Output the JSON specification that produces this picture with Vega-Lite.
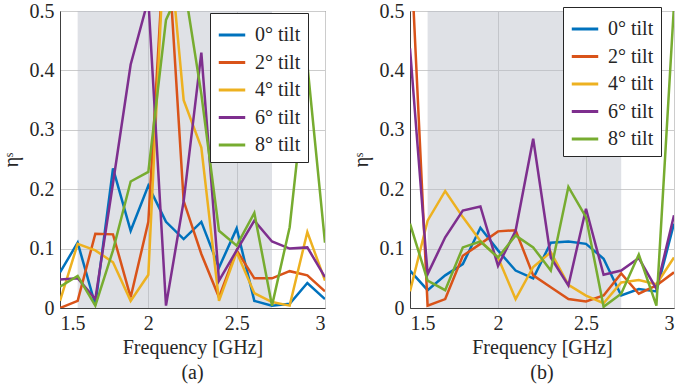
{
  "$schema": "https://vega.github.io/schema/vega-lite/v6.json",
  "padding": {"left": 0, "top": 0, "right": 5, "bottom": 0},
  "spacing": 24,
  "datasets": {
    "a": [
      {"t": "0° tilt", "f": 1.5, "v": 0.06}, {"t": "0° tilt", "f": 1.6, "v": 0.11}, {"t": "0° tilt", "f": 1.7, "v": 0.005}, {"t": "0° tilt", "f": 1.8, "v": 0.235}, {"t": "0° tilt", "f": 1.9, "v": 0.13}, {"t": "0° tilt", "f": 2.0, "v": 0.206}, {"t": "0° tilt", "f": 2.1, "v": 0.145}, {"t": "0° tilt", "f": 2.2, "v": 0.116}, {"t": "0° tilt", "f": 2.3, "v": 0.145}, {"t": "0° tilt", "f": 2.4, "v": 0.068}, {"t": "0° tilt", "f": 2.5, "v": 0.134}, {"t": "0° tilt", "f": 2.6, "v": 0.012}, {"t": "0° tilt", "f": 2.7, "v": 0.004}, {"t": "0° tilt", "f": 2.8, "v": 0.007}, {"t": "0° tilt", "f": 2.9, "v": 0.042}, {"t": "0° tilt", "f": 3.0, "v": 0.015},
      {"t": "2° tilt", "f": 1.5, "v": 0.0}, {"t": "2° tilt", "f": 1.6, "v": 0.012}, {"t": "2° tilt", "f": 1.7, "v": 0.125}, {"t": "2° tilt", "f": 1.8, "v": 0.124}, {"t": "2° tilt", "f": 1.9, "v": 0.018}, {"t": "2° tilt", "f": 2.0, "v": 0.145}, {"t": "2° tilt", "f": 2.1, "v": 0.66}, {"t": "2° tilt", "f": 2.2, "v": 0.18}, {"t": "2° tilt", "f": 2.3, "v": 0.091}, {"t": "2° tilt", "f": 2.4, "v": 0.018}, {"t": "2° tilt", "f": 2.5, "v": 0.097}, {"t": "2° tilt", "f": 2.6, "v": 0.05}, {"t": "2° tilt", "f": 2.7, "v": 0.05}, {"t": "2° tilt", "f": 2.8, "v": 0.062}, {"t": "2° tilt", "f": 2.9, "v": 0.055}, {"t": "2° tilt", "f": 3.0, "v": 0.028},
      {"t": "4° tilt", "f": 1.5, "v": 0.012}, {"t": "4° tilt", "f": 1.6, "v": 0.108}, {"t": "4° tilt", "f": 1.7, "v": 0.097}, {"t": "4° tilt", "f": 1.8, "v": 0.077}, {"t": "4° tilt", "f": 1.9, "v": 0.012}, {"t": "4° tilt", "f": 2.0, "v": 0.056}, {"t": "4° tilt", "f": 2.1, "v": 0.67}, {"t": "4° tilt", "f": 2.2, "v": 0.35}, {"t": "4° tilt", "f": 2.3, "v": 0.27}, {"t": "4° tilt", "f": 2.4, "v": 0.012}, {"t": "4° tilt", "f": 2.5, "v": 0.094}, {"t": "4° tilt", "f": 2.6, "v": 0.025}, {"t": "4° tilt", "f": 2.7, "v": 0.01}, {"t": "4° tilt", "f": 2.8, "v": 0.004}, {"t": "4° tilt", "f": 2.9, "v": 0.128}, {"t": "4° tilt", "f": 3.0, "v": 0.046},
      {"t": "6° tilt", "f": 1.5, "v": 0.048}, {"t": "6° tilt", "f": 1.6, "v": 0.05}, {"t": "6° tilt", "f": 1.7, "v": 0.015}, {"t": "6° tilt", "f": 1.8, "v": 0.21}, {"t": "6° tilt", "f": 1.9, "v": 0.41}, {"t": "6° tilt", "f": 2.0, "v": 0.52}, {"t": "6° tilt", "f": 2.1, "v": 0.004}, {"t": "6° tilt", "f": 2.2, "v": 0.18}, {"t": "6° tilt", "f": 2.3, "v": 0.43}, {"t": "6° tilt", "f": 2.4, "v": 0.046}, {"t": "6° tilt", "f": 2.5, "v": 0.097}, {"t": "6° tilt", "f": 2.6, "v": 0.147}, {"t": "6° tilt", "f": 2.7, "v": 0.112}, {"t": "6° tilt", "f": 2.8, "v": 0.1}, {"t": "6° tilt", "f": 2.9, "v": 0.102}, {"t": "6° tilt", "f": 3.0, "v": 0.052},
      {"t": "8° tilt", "f": 1.5, "v": 0.036}, {"t": "8° tilt", "f": 1.6, "v": 0.054}, {"t": "8° tilt", "f": 1.7, "v": 0.004}, {"t": "8° tilt", "f": 1.8, "v": 0.097}, {"t": "8° tilt", "f": 1.9, "v": 0.213}, {"t": "8° tilt", "f": 2.0, "v": 0.229}, {"t": "8° tilt", "f": 2.1, "v": 0.485}, {"t": "8° tilt", "f": 2.2, "v": 0.55}, {"t": "8° tilt", "f": 2.3, "v": 0.36}, {"t": "8° tilt", "f": 2.4, "v": 0.13}, {"t": "8° tilt", "f": 2.5, "v": 0.105}, {"t": "8° tilt", "f": 2.6, "v": 0.16}, {"t": "8° tilt", "f": 2.7, "v": 0.004}, {"t": "8° tilt", "f": 2.8, "v": 0.136}, {"t": "8° tilt", "f": 2.9, "v": 0.41}, {"t": "8° tilt", "f": 3.0, "v": 0.11}
    ],
    "b": [
      {"t": "0° tilt", "f": 1.5, "v": 0.063}, {"t": "0° tilt", "f": 1.6, "v": 0.03}, {"t": "0° tilt", "f": 1.7, "v": 0.055}, {"t": "0° tilt", "f": 1.8, "v": 0.074}, {"t": "0° tilt", "f": 1.9, "v": 0.135}, {"t": "0° tilt", "f": 2.0, "v": 0.097}, {"t": "0° tilt", "f": 2.1, "v": 0.063}, {"t": "0° tilt", "f": 2.2, "v": 0.05}, {"t": "0° tilt", "f": 2.3, "v": 0.11}, {"t": "0° tilt", "f": 2.4, "v": 0.112}, {"t": "0° tilt", "f": 2.5, "v": 0.108}, {"t": "0° tilt", "f": 2.6, "v": 0.083}, {"t": "0° tilt", "f": 2.7, "v": 0.021}, {"t": "0° tilt", "f": 2.8, "v": 0.032}, {"t": "0° tilt", "f": 2.9, "v": 0.028}, {"t": "0° tilt", "f": 3.0, "v": 0.142},
      {"t": "2° tilt", "f": 1.5, "v": 0.63}, {"t": "2° tilt", "f": 1.6, "v": 0.004}, {"t": "2° tilt", "f": 1.7, "v": 0.015}, {"t": "2° tilt", "f": 1.8, "v": 0.088}, {"t": "2° tilt", "f": 1.9, "v": 0.108}, {"t": "2° tilt", "f": 2.0, "v": 0.129}, {"t": "2° tilt", "f": 2.1, "v": 0.131}, {"t": "2° tilt", "f": 2.2, "v": 0.055}, {"t": "2° tilt", "f": 2.3, "v": 0.035}, {"t": "2° tilt", "f": 2.4, "v": 0.015}, {"t": "2° tilt", "f": 2.5, "v": 0.011}, {"t": "2° tilt", "f": 2.6, "v": 0.021}, {"t": "2° tilt", "f": 2.7, "v": 0.058}, {"t": "2° tilt", "f": 2.8, "v": 0.024}, {"t": "2° tilt", "f": 2.9, "v": 0.038}, {"t": "2° tilt", "f": 3.0, "v": 0.06},
      {"t": "4° tilt", "f": 1.5, "v": 0.028}, {"t": "4° tilt", "f": 1.6, "v": 0.147}, {"t": "4° tilt", "f": 1.7, "v": 0.197}, {"t": "4° tilt", "f": 1.8, "v": 0.153}, {"t": "4° tilt", "f": 1.9, "v": 0.113}, {"t": "4° tilt", "f": 2.0, "v": 0.085}, {"t": "4° tilt", "f": 2.1, "v": 0.015}, {"t": "4° tilt", "f": 2.2, "v": 0.069}, {"t": "4° tilt", "f": 2.3, "v": 0.094}, {"t": "4° tilt", "f": 2.4, "v": 0.039}, {"t": "4° tilt", "f": 2.5, "v": 0.021}, {"t": "4° tilt", "f": 2.6, "v": 0.008}, {"t": "4° tilt", "f": 2.7, "v": 0.043}, {"t": "4° tilt", "f": 2.8, "v": 0.047}, {"t": "4° tilt", "f": 2.9, "v": 0.04}, {"t": "4° tilt", "f": 3.0, "v": 0.085},
      {"t": "6° tilt", "f": 1.5, "v": 0.437}, {"t": "6° tilt", "f": 1.6, "v": 0.057}, {"t": "6° tilt", "f": 1.7, "v": 0.119}, {"t": "6° tilt", "f": 1.8, "v": 0.164}, {"t": "6° tilt", "f": 1.9, "v": 0.171}, {"t": "6° tilt", "f": 2.0, "v": 0.071}, {"t": "6° tilt", "f": 2.1, "v": 0.13}, {"t": "6° tilt", "f": 2.2, "v": 0.285}, {"t": "6° tilt", "f": 2.3, "v": 0.085}, {"t": "6° tilt", "f": 2.4, "v": 0.038}, {"t": "6° tilt", "f": 2.5, "v": 0.167}, {"t": "6° tilt", "f": 2.6, "v": 0.056}, {"t": "6° tilt", "f": 2.7, "v": 0.063}, {"t": "6° tilt", "f": 2.8, "v": 0.084}, {"t": "6° tilt", "f": 2.9, "v": 0.032}, {"t": "6° tilt", "f": 3.0, "v": 0.156},
      {"t": "8° tilt", "f": 1.5, "v": 0.142}, {"t": "8° tilt", "f": 1.6, "v": 0.046}, {"t": "8° tilt", "f": 1.7, "v": 0.03}, {"t": "8° tilt", "f": 1.8, "v": 0.102}, {"t": "8° tilt", "f": 1.9, "v": 0.112}, {"t": "8° tilt", "f": 2.0, "v": 0.085}, {"t": "8° tilt", "f": 2.1, "v": 0.122}, {"t": "8° tilt", "f": 2.2, "v": 0.102}, {"t": "8° tilt", "f": 2.3, "v": 0.063}, {"t": "8° tilt", "f": 2.4, "v": 0.204}, {"t": "8° tilt", "f": 2.5, "v": 0.153}, {"t": "8° tilt", "f": 2.6, "v": 0.002}, {"t": "8° tilt", "f": 2.7, "v": 0.024}, {"t": "8° tilt", "f": 2.8, "v": 0.09}, {"t": "8° tilt", "f": 2.9, "v": 0.004}, {"t": "8° tilt", "f": 3.0, "v": 0.51}
    ],
    "band": [{"lo": 1.6, "hi": 2.7}]
  },
  "hconcat": [
    {
      "width": 265, "height": 297,
      "view": {"stroke": "#404040"},
      "title": {"text": "(a)", "orient": "bottom", "offset": 6, "font": "Liberation Serif", "fontSize": 20, "fontWeight": "normal", "color": "#262626"},
      "layer": [
        {"data": {"name": "band"}, "mark": {"type": "rect", "fill": "#b9bdc7", "opacity": 0.45},
         "encoding": {"x": {"field": "lo", "type": "quantitative", "title": "Frequency [GHz]", "scale": {"domain": [1.5, 3], "nice": false}, "axis": {"values": [1.5, 2, 2.5, 3], "format": "~g", "ticks": false, "labelPadding": 5, "titlePadding": 4, "labelFont": "Liberation Serif", "titleFont": "Liberation Serif", "labelFontSize": 20, "titleFontSize": 20, "titleFontWeight": "normal", "labelColor": "#262626", "titleColor": "#262626", "gridColor": "#cccccc", "domainColor": "#404040"}}, "x2": {"field": "hi"}}},
        {"data": {"name": "a"}, "mark": {"type": "line", "strokeWidth": 2.5, "clip": true},
         "encoding": {
           "x": {"field": "f", "type": "quantitative", "title": "Frequency [GHz]", "scale": {"domain": [1.5, 3], "nice": false}, "axis": {"values": [1.5, 2, 2.5, 3], "format": "~g", "ticks": false, "labelPadding": 5, "titlePadding": 4, "labelFont": "Liberation Serif", "titleFont": "Liberation Serif", "labelFontSize": 20, "titleFontSize": 20, "titleFontWeight": "normal", "labelColor": "#262626", "titleColor": "#262626", "gridColor": "#cccccc", "domainColor": "#404040"}},
           "y": {"field": "v", "type": "quantitative", "title": "ηˢ", "scale": {"domain": [0, 0.5], "nice": false}, "axis": {"values": [0, 0.1, 0.2, 0.3, 0.4, 0.5], "format": "~g", "ticks": false, "labelPadding": 6, "titlePadding": 8, "labelFont": "Liberation Serif", "titleFont": "Liberation Serif", "labelFontSize": 20, "titleFontSize": 20, "titleFontWeight": "normal", "labelColor": "#262626", "titleColor": "#262626", "gridColor": "#cccccc", "domainColor": "#404040"}},
           "color": {"field": "t", "type": "nominal", "title": null, "scale": {"range": ["#0072BD", "#D95319", "#EDB120", "#7E2F8E", "#77AC30"]}, "legend": {"orient": "none", "legendX": 150, "legendY": 2, "labelFont": "Liberation Serif", "labelFontSize": 20, "labelColor": "#262626", "fillColor": "white", "strokeColor": "#262626", "padding": 7, "symbolType": "stroke", "symbolSize": 700, "symbolStrokeWidth": 3, "rowPadding": 2.5, "labelOffset": 8, "cornerRadius": 0}}
         }}
      ]
    },
    {
      "width": 264, "height": 297,
      "view": {"stroke": "#404040"},
      "title": {"text": "(b)", "orient": "bottom", "offset": 6, "font": "Liberation Serif", "fontSize": 20, "fontWeight": "normal", "color": "#262626"},
      "layer": [
        {"data": {"name": "band"}, "mark": {"type": "rect", "fill": "#b9bdc7", "opacity": 0.45},
         "encoding": {"x": {"field": "lo", "type": "quantitative", "title": "Frequency [GHz]", "scale": {"domain": [1.5, 3], "nice": false}, "axis": {"values": [1.5, 2, 2.5, 3], "format": "~g", "ticks": false, "labelPadding": 5, "titlePadding": 4, "labelFont": "Liberation Serif", "titleFont": "Liberation Serif", "labelFontSize": 20, "titleFontSize": 20, "titleFontWeight": "normal", "labelColor": "#262626", "titleColor": "#262626", "gridColor": "#cccccc", "domainColor": "#404040"}}, "x2": {"field": "hi"}}},
        {"data": {"name": "b"}, "mark": {"type": "line", "strokeWidth": 2.5, "clip": true},
         "encoding": {
           "x": {"field": "f", "type": "quantitative", "title": "Frequency [GHz]", "scale": {"domain": [1.5, 3], "nice": false}, "axis": {"values": [1.5, 2, 2.5, 3], "format": "~g", "ticks": false, "labelPadding": 5, "titlePadding": 4, "labelFont": "Liberation Serif", "titleFont": "Liberation Serif", "labelFontSize": 20, "titleFontSize": 20, "titleFontWeight": "normal", "labelColor": "#262626", "titleColor": "#262626", "gridColor": "#cccccc", "domainColor": "#404040"}},
           "y": {"field": "v", "type": "quantitative", "title": "ηˢ", "scale": {"domain": [0, 0.5], "nice": false}, "axis": {"values": [0, 0.1, 0.2, 0.3, 0.4, 0.5], "format": "~g", "ticks": false, "labelPadding": 6, "titlePadding": 8, "labelFont": "Liberation Serif", "titleFont": "Liberation Serif", "labelFontSize": 20, "titleFontSize": 20, "titleFontWeight": "normal", "labelColor": "#262626", "titleColor": "#262626", "gridColor": "#cccccc", "domainColor": "#404040"}},
           "color": {"field": "t", "type": "nominal", "title": null, "scale": {"range": ["#0072BD", "#D95319", "#EDB120", "#7E2F8E", "#77AC30"]}, "legend": {"orient": "none", "legendX": 153, "legendY": -4, "labelFont": "Liberation Serif", "labelFontSize": 20, "labelColor": "#262626", "fillColor": "white", "strokeColor": "#262626", "padding": 7, "symbolType": "stroke", "symbolSize": 700, "symbolStrokeWidth": 3, "rowPadding": 2.5, "labelOffset": 8, "cornerRadius": 0}}
         }}
      ]
    }
  ],
  "resolve": {"scale": {"color": "independent"}}
}
